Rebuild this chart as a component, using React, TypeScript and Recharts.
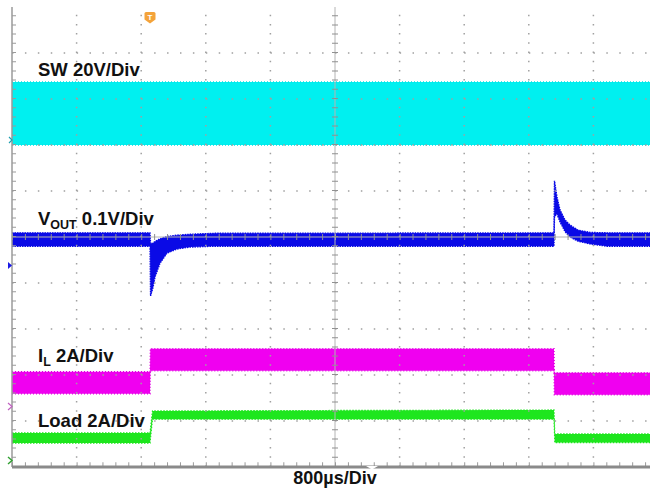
import React from "react";
import { ComposedChart, Area, XAxis, YAxis, ReferenceLine } from "recharts";

// Time axis: 10 divisions x 800 µs
const X_TICKS_US = [800, 1600, 2400, 3200, 4800, 5600, 6400, 7200];
const Y_ROWS = [1, 2, 3, 4, 6, 7, 8, 9];
const X_DOMAIN = [0, 8000];
const Y_DOMAIN = [0, 10];

// SW channel (divisions)
const SW_T = [0, 8000];
const SW_LO = [7.0, 7.0];
const SW_HI = [8.37, 8.37];

// VOUT channel (divisions)
const VOUT_T = [0, 1709, 1716, 1746, 1771, 1833, 1920, 2044, 2204, 2500, 6712, 6718, 6749, 6786, 6848, 6910, 7009, 7158, 7368, 8000];
const VOUT_LO = [4.8, 4.8, 3.72, 3.9, 4.13, 4.43, 4.65, 4.74, 4.78, 4.8, 4.8, 5.45, 5.5, 5.33, 5.12, 5.0, 4.91, 4.85, 4.8, 4.8];
const VOUT_HI = [5.09, 5.09, 4.85, 4.87, 4.9, 4.96, 5.01, 5.04, 5.06, 5.08, 5.09, 6.22, 5.87, 5.59, 5.37, 5.26, 5.15, 5.1, 5.09, 5.09];

// Inductor current (divisions)
const IL_T = [0, 1709, 1713, 6712, 6716, 8000];
const IL_LO = [1.59, 1.59, 2.09, 2.09, 1.57, 1.57];
const IL_HI = [2.07, 2.07, 2.57, 2.57, 2.05, 2.05];

// Load current (divisions)
const LOAD_T = [0, 1709, 1740, 6712, 6722, 8000];
const LOAD_LO = [0.52, 0.52, 1.04, 1.04, 0.53, 0.53];
const LOAD_HI = [0.74, 0.74, 1.22, 1.24, 0.72, 0.72];

const TRIGGER_US = 1709;

const build = (t: number[], lo: number[], hi: number[]) =>
  t.map((x, i) => ({ t: x, v: [lo[i], hi[i]] }));

const swData = build(SW_T, SW_LO, SW_HI);
const voutData = build(VOUT_T, VOUT_LO, VOUT_HI);
const ilData = build(IL_T, IL_LO, IL_HI);
const loadData = build(LOAD_T, LOAD_LO, LOAD_HI);

const LEFT = 12;
const TOP = 7;
const PW = 646;
const PH = 460;
const FONT = "Arial, 'Liberation Sans', Helvetica, sans-serif";

export default function App() {
  const trigX = LEFT + (TRIGGER_US / X_DOMAIN[1]) * PW;
  return (
    <div
      style={{
        position: "absolute",
        left: 0,
        top: 0,
        width: 650,
        height: 488,
        overflow: "hidden",
        background: "#ffffff",
      }}
    >
      <ComposedChart
        width={LEFT + PW + 12}
        height={488}
        margin={{ top: TOP, right: 12, bottom: 488 - TOP - PH, left: LEFT }}
      >
        <XAxis type="number" dataKey="t" domain={X_DOMAIN} hide allowDataOverflow />
        <YAxis type="number" domain={Y_DOMAIN} hide allowDataOverflow />
        <Area data={swData} dataKey="v" type="linear" stroke="#00e4e4" strokeWidth={1.6} strokeDasharray="1 2" fill="#00f0f0" fillOpacity={1} isAnimationActive={false} />
        <Area data={voutData} dataKey="v" type="linear" stroke="#0a0ae6" strokeWidth={1.4} strokeDasharray="1.5 1" fill="#0a0ae6" fillOpacity={1} isAnimationActive={false} />
        <Area data={ilData} dataKey="v" type="linear" stroke="#e000e0" strokeWidth={1.4} strokeDasharray="1 2" fill="#f000f0" fillOpacity={1} isAnimationActive={false} />
        <Area data={loadData} dataKey="v" type="linear" stroke="#1ee61e" strokeWidth={1.2} strokeDasharray="1.5 1.5" fill="#1ee61e" fillOpacity={1} isAnimationActive={false} />

        {Y_ROWS.map((y) => (
          <ReferenceLine key={"r" + y} y={y} stroke="#a0a0a0" strokeWidth={1.5} strokeDasharray="1.5 11.42" />
        ))}
        {X_TICKS_US.map((x) => (
          <ReferenceLine key={"c" + x} x={x} stroke="#a0a0a0" strokeWidth={1.5} strokeDasharray="1.5 7.7" />
        ))}
        {/* center graticule */}
        <ReferenceLine y={5} stroke="#b4b4b4" strokeWidth={1} />
        <ReferenceLine y={5} stroke="#909090" strokeWidth={6} strokeDasharray="1 11.92" />
        <ReferenceLine x={4000} stroke="#b4b4b4" strokeWidth={1} />
        <ReferenceLine x={4000} stroke="#909090" strokeWidth={6} strokeDasharray="1 8.2" />
        {/* left axis */}
        <ReferenceLine x={0} stroke="#9a9a9a" strokeWidth={1.5} />
        <ReferenceLine x={25} stroke="#9a9a9a" strokeWidth={4} strokeDasharray="1 8.2" />
        {/* bottom axis */}
        <ReferenceLine y={0.05} stroke="#9a9a9a" strokeWidth={5} strokeDasharray="1 11.92" />
        <ReferenceLine y={0} stroke="#8a8a8a" strokeWidth={3} />
      </ComposedChart>

      <svg
        width={650}
        height={488}
        style={{ position: "absolute", left: 0, top: 0, pointerEvents: "none" }}
      >
        <g fontFamily={FONT} fontWeight="bold" fill="#111">
          <text x={38} y={76} fontSize={18.5}>SW 20V/Div</text>
          <text x={38} y={225} fontSize={18.5}>
            V<tspan fontSize={12.5} dy={4.3}>OUT</tspan>
            <tspan dy={-4.3}> 0.1V/Div</tspan>
          </text>
          <text x={38} y={362} fontSize={18.5}>
            I<tspan fontSize={12.5} dy={4.3}>L</tspan>
            <tspan dy={-4.3}> 2A/Div</tspan>
          </text>
          <text x={38} y={427} fontSize={18.5}>Load 2A/Div</text>
          <text x={335} y={484} fontSize={18} textAnchor="middle">800µs/Div</text>
        </g>

        {/* trigger marker */}
        <path
          d={`M${trigX - 4},12 h8 a1.5,1.5 0 0 1 1.5,1.5 v6 l-5.5,4 l-5.5,-4 v-6 a1.5,1.5 0 0 1 1.5,-1.5 z`}
          fill="#f4a33a"
        />
        <text x={trigX} y={20} fontSize={8} fontFamily={FONT} fontWeight="bold" fill="#ffffff" textAnchor="middle">T</text>

        {/* channel ground markers */}
        <polyline points="9,137 12,140 9,143" fill="none" stroke="#20a0b0" strokeWidth={1.2} />
        <path d="M8,262 L12,265.5 L8,269 Z" fill="#1a1ae6" />
        <polyline points="8,403 12,406.5 8,410" fill="none" stroke="#c060c0" strokeWidth={1.2} />
        <polyline points="8,457 12,460.5 8,464" fill="none" stroke="#30a030" strokeWidth={1.4} />

        {/* bottom trigger position marker */}
        <path d="M366,466 L378,466 L372,469.5 Z" fill="#ffffff" />
      </svg>
    </div>
  );
}
